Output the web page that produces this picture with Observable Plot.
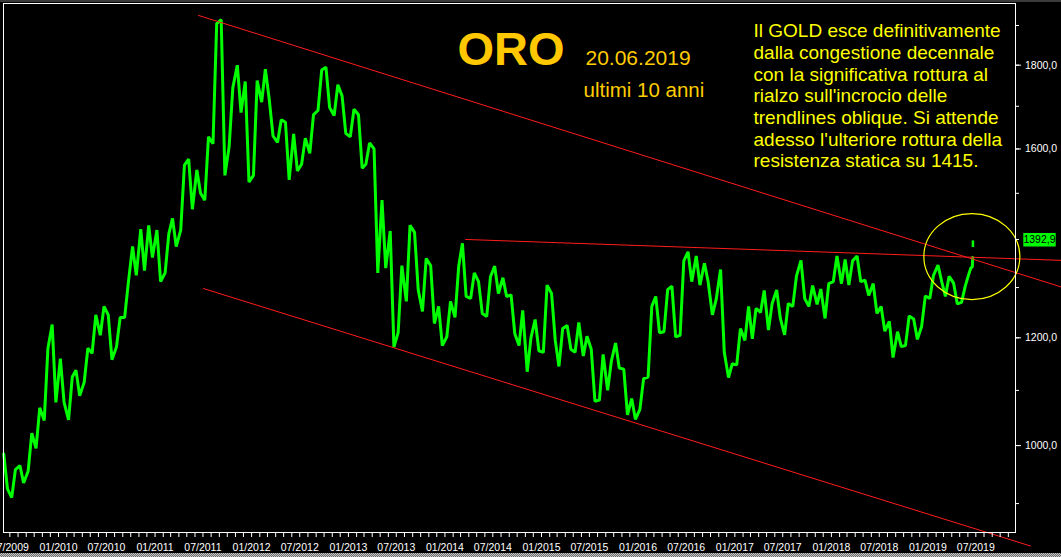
<!DOCTYPE html>
<html><head><meta charset="utf-8">
<script src="https://cdn.jsdelivr.net/npm/d3@7"></script>
<script src="https://cdn.jsdelivr.net/npm/@observablehq/plot@0.6"></script>
<style>
html,body{margin:0;padding:0;background:#000;}
#wrap{position:relative;width:1061px;height:557px;overflow:hidden;background:#000;}
#topbar{position:absolute;left:0;top:0;width:1061px;height:2px;background:#3a3a3a;}
#botbar{position:absolute;left:0;bottom:0;width:1061px;height:4px;background-image:repeating-conic-gradient(#c8c8c8 0 25%, #6a6a6a 0 50%);background-size:2px 2px;}
svg{display:block;}
</style></head>
<body><div id="wrap"><div id="topbar"></div><div id="botbar"></div></div>
<script>
// ---- DATA (monthly extremes in chronological order, USD/oz) ----
const gold2009 = [[985,925],[910,958],[965,935],[955,1022],[995,1068],[1045,1180],[1226,1078]]; // Jun..Dec
const gold2010 = [[1160,1078],[1046,1125],[1138,1090],[1115,1180],[1170,1245],[1205,1262],[1245,1158],[1182,1240],[1240,1310],[1385,1325],[1422,1335],[1430,1362]];
const gold2011 = [[1420,1312],[1330,1412],[1445,1385],[1420,1563],[1577,1465],[1552,1500],[1485,1628],[1612,1905],[1915,1540],[1605,1745],[1800,1685],[1760,1525]];
const gold2012 = [[1540,1762],[1710,1790],[1715,1630],[1615,1668],[1662,1530],[1635,1550],[1565,1625],[1590,1680],[1690,1788],[1795,1697],[1678,1752],[1725,1636]];
const gold2013 = [[1628,1693],[1680,1556],[1565,1614],[1600,1330],[1485,1340],[1418,1182],[1210,1345],[1272,1430],[1415,1295],[1252,1360],[1345,1228],[1262,1185]];
const gold2014 = [[1202,1272],[1240,1344],[1392,1282],[1278,1330],[1312,1248],[1242,1322],[1344,1288],[1320,1282],[1285,1208],[1185,1254],[1135,1200],[1236,1175]];
const gold2015 = [[1172,1305],[1288,1195],[1145,1218],[1224,1178],[1172,1230],[1165,1203],[1178,1080],[1082,1168],[1100,1155],[1190,1142],[1140,1055],[1085,1047]];
const gold2016 = [[1065,1122],[1125,1262],[1282,1210],[1212,1296],[1303,1202],[1205,1355],[1374,1312],[1365,1305],[1350,1312],[1245,1275],[1337,1172],[1124,1150]];
const gold2017 = [[1148,1218],[1195,1262],[1198,1258],[1250,1294],[1215,1268],[1295,1238],[1206,1268],[1262,1324],[1356,1278],[1262,1304],[1266,1297],[1238,1308]];
const gold2018 = [[1312,1365],[1308,1358],[1305,1355],[1365,1312],[1315,1284],[1308,1248],[1262,1213],[1232,1162],[1212,1183],[1185,1243],[1237,1197],[1222,1283]];
const gold2019 = [[1278,1325],[1346,1312],[1282,1323],[1309,1267],[1270,1303]]; // Jan..May
const june2019Dates = ["2019-06-03","2019-06-12","2019-06-18","2019-06-19"];
const june2019Prices = [1325,1340,1343,1362];
const lastBarDate = "2019-06-20";
const lastBarLow = 1383, lastBarHigh = 1397;
const lastPrice = 1392.9;
const lastPriceLabel = "1392,9";

const upperTrend = [{date:"2011-06-14", price:1926},{date:"2020-05-20", price:1301}];
const lowerTrend = [{date:"2011-07-03", price:1298},{date:"2020-01-24", price:830}];
const resistance = [{date:"2014-03-20", price:1400},{date:"2020-05-20", price:1356}];
const circleDate = "2019-06-16", circlePrice = 1364;

const yMajorTicks = [1000,1200,1600,1800];
const yMinorTicks = [900,1000,1100,1200,1300,1400,1500,1600,1700,1800,1900];
const xDomain = ["2009-06-07","2019-11-28"];
const yDomain = [852,1957];

const titleText = "ORO";
const dateText = "20.06.2019";
const subText = "ultimi 10 anni";
const noteLines = [
  "Il GOLD esce definitivamente",
  "dalla congestione decennale",
  "con la significativa rottura al",
  "rialzo sull'incrocio delle",
  "trendlines oblique. Si attende",
  "adesso l'ulteriore rottura della",
  "resistenza statica su 1415."
];

// ---- build table ----
const goldRows = [];
function addYear(year, firstMonth, pairs){
  pairs.forEach((p,i)=>{
    goldRows.push({date:new Date(Date.UTC(year, firstMonth+i, 8)), price:p[0]});
    goldRows.push({date:new Date(Date.UTC(year, firstMonth+i, 22)), price:p[1]});
  });
}
addYear(2009,5,gold2009); addYear(2010,0,gold2010); addYear(2011,0,gold2011);
addYear(2012,0,gold2012); addYear(2013,0,gold2013); addYear(2014,0,gold2014);
addYear(2015,0,gold2015); addYear(2016,0,gold2016); addYear(2017,0,gold2017);
addYear(2018,0,gold2018); addYear(2019,0,gold2019);
june2019Dates.forEach((d,i)=>goldRows.push({date:new Date(d), price:june2019Prices[i]}));

const toDate = r => ({date:new Date(r.date), price:r.price});
const green = "#00ff00", red = "#ff1c1c";

const ellipseSymbol = {draw(ctx, size){
  const r = Math.sqrt(size/Math.PI), rx = r*48/45.5, ry = r*43/45.5, k = 0.5523;
  ctx.moveTo(rx,0);
  ctx.bezierCurveTo(rx, ry*k, rx*k, ry, 0, ry);
  ctx.bezierCurveTo(-rx*k, ry, -rx, ry*k, -rx, 0);
  ctx.bezierCurveTo(-rx, -ry*k, -rx*k, -ry, 0, -ry);
  ctx.bezierCurveTo(rx*k, -ry, rx, -ry*k, rx, 0);
  ctx.closePath();
}};
const boxSymbol = {draw(ctx){ ctx.rect(-16.2,-6.7,32.4,13.4); }};

const monthTicks = d3.utcMonth.range(new Date(xDomain[0]), new Date(xDomain[1]));
const fmtMonth = d3.utcFormat("%m/%Y");
const fmtY = d => d.toFixed(1).replace(".", ",");
const font = "Liberation Sans, Arial, sans-serif";

const chart = Plot.plot({
  width: 1061, height: 557,
  marginLeft: 3, marginRight: 46, marginTop: 3, marginBottom: 25,
  style: {background: "#000", color: "#fff", fontFamily: font, fontSize: "10.5px"},
  x: {type: "utc", domain: xDomain.map(d => new Date(d)), axis: null},
  y: {type: "symlog", constant: 1000, domain: yDomain, axis: null},
  marks: [
    Plot.line(goldRows, {x: "date", y: "price", stroke: green, strokeWidth: 3, strokeLinejoin: "miter"}),
    Plot.ruleX([{date: new Date(lastBarDate), lo: lastBarLow, hi: lastBarHigh}], {x: "date", y1: "lo", y2: "hi", stroke: green, strokeWidth: 2.5}),
    Plot.line(upperTrend.map(toDate), {x: "date", y: "price", stroke: red, strokeWidth: 1}),
    Plot.line(lowerTrend.map(toDate), {x: "date", y: "price", stroke: red, strokeWidth: 1}),
    Plot.line(resistance.map(toDate), {x: "date", y: "price", stroke: red, strokeWidth: 1}),
    Plot.dot([{date: new Date(circleDate), price: circlePrice}], {x: "date", y: "price", r: 45.5, symbol: ellipseSymbol, stroke: "#ffff00", fill: "none", strokeWidth: 1.2}),
    Plot.frame({stroke: "#fff"}),
    Plot.axisX({anchor: "bottom", ticks: monthTicks, tickSize: 5, tickPadding: 6.5, label: null,
      tickFormat: d => d.getUTCMonth() % 6 === 0 ? fmtMonth(d) : "", fontSize: 10.5}),
    Plot.axisY({anchor: "right", ticks: yMinorTicks, tickSize: 3, label: null, tickFormat: () => ""}),
    Plot.axisY({anchor: "right", ticks: yMajorTicks, tickSize: 5, tickPadding: 4.5, label: null, tickFormat: fmtY, fontSize: 10.5}),
    Plot.dot([lastPrice], {y: d => d, frameAnchor: "right", dx: 24, dy: -3, r: 10, symbol: boxSymbol, fill: green, stroke: "none"}),
    Plot.text([lastPriceLabel], {y: () => lastPrice, text: d => d, frameAnchor: "right", dx: 24, dy: -3, textAnchor: "middle", fill: "#000", fontSize: 10.5}),
    Plot.text([titleText], {text: d => d, frameAnchor: "top-left", dx: 454, dy: 61, lineAnchor: "bottom", textAnchor: "start", fill: "#ffc800", fontSize: 47, fontWeight: "bold"}),
    Plot.text([dateText], {text: d => d, frameAnchor: "top-left", dx: 582, dy: 61, lineAnchor: "bottom", textAnchor: "start", fill: "#ffcc00", fontSize: 21}),
    Plot.text([subText], {text: d => d, frameAnchor: "top-left", dx: 580, dy: 93, lineAnchor: "bottom", textAnchor: "start", fill: "#ffcc00", fontSize: 20.5}),
    Plot.text([noteLines.join("\n")], {text: d => d, frameAnchor: "top-left", dx: 750, dy: 163.7, lineAnchor: "bottom", lineHeight: 1.14, textAnchor: "start", fill: "#ffff00", fontSize: 19})
  ]
});
document.getElementById("wrap").prepend(chart);
</script>
</body></html>
